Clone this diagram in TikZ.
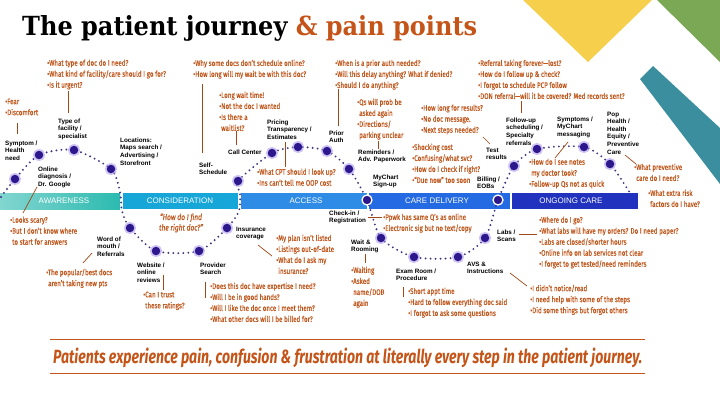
\documentclass[tikz,border=0pt]{standalone}
\usepackage{fontspec}
\usepackage{graphicx}
\setmainfont{Liberation Sans}
\newfontfamily\bulletfont[FakeStretch=0.78,FakeBold=0.6]{Fira Sans}
\newfontfamily\stagefont{Liberation Sans}
\newfontfamily\titlefont{DejaVu Serif}
\newfontfamily\bannerfont{Fira Sans}
\newcommand\ind{\hphantom{•}}

\definecolor{painc}{RGB}{192,88,30}
\definecolor{titleorange}{RGB}{196,84,24}
\definecolor{linkc}{RGB}{160,72,22}
\definecolor{stopc}{RGB}{44,24,140}
\definecolor{glowc}{RGB}{170,150,235}
\definecolor{dotc}{RGB}{62,52,130}
\definecolor{aw1}{RGB}{130,214,208}
\definecolor{aw2}{RGB}{44,186,176}
\definecolor{cons}{RGB}{22,166,216}
\definecolor{acc}{RGB}{46,140,230}
\definecolor{care}{RGB}{36,106,226}
\definecolor{ongo}{RGB}{32,50,190}
\definecolor{sun}{RGB}{246,208,77}
\definecolor{leaf}{RGB}{122,168,84}
\definecolor{sea}{RGB}{58,142,158}

\begin{document}
\begin{tikzpicture}[x=1pt,y=-1pt,
  pain/.style={anchor=north west, inner sep=0pt, align=left, text=painc,
    font=\bulletfont\fontsize{8}{11}\selectfont},
  stagelbl/.style={anchor=north west, inner sep=0pt, align=left,
    font=\stagefont\bfseries\fontsize{6.3}{7.6}\selectfont},
  phase/.style={text=white, inner sep=0pt, font=\stagefont\fontsize{8}{8}\selectfont},
  link/.style={draw=linkc, line width=0.7pt},
  trail/.style={draw=dotc, line width=2.1pt, line cap=round, dash pattern=on 0pt off 5pt},
  stop/.style={circle, minimum size=8.5pt, inner sep=0pt, fill=stopc,
    preaction={draw=glowc, line width=3.6pt, draw opacity=0.55}},
  gate/.style={circle, minimum size=10pt, inner sep=0pt, fill=stopc, draw=white, line width=1.3pt}]

\useasboundingbox (0,0) rectangle (720,405);
\fill[white] (0,0) rectangle (720,405);

% corner decoration
\fill[sun] (523,0) -- (652,0) -- (588,62) -- cycle;
\fill[leaf] (657,0) -- (720,0) -- (720,62) -- cycle;
\fill[sea] (640,79) -- (653,66) -- (720,128) -- (720,184) -- cycle;

% title
\node[anchor=base west, inner sep=0pt] (title) at (22,35)
  {\resizebox{455pt}{20pt}{\titlefont\bfseries The patient journey \textcolor{titleorange}{\&~pain points}}};

% phase bar
\shade[left color=aw1, right color=aw2] (0,193) rectangle (120,209);
\fill[cons] (123,193) rectangle (238,209);
\fill[acc] (241,193) rectangle (367,209);
\fill[care] (369,193) rectangle (510,209);
\fill[ongo] (512,193) rectangle (638,209);
\node[phase] (ph1) at (64,201) {AWARENESS};
\node[phase] (ph2) at (180,201) {CONSIDERATION};
\node[phase] (ph3) at (306,201) {ACCESS};
\node[phase] (ph4) at (437,201) {CARE DELIVERY};
\node[phase] (ph5) at (571,201) {ONGOING CARE};

% journey stops
\coordinate (t0) at (1,197);
\coordinate (c1) at (15,179);
\coordinate (c2) at (39,155);
\coordinate (c3) at (74,150);
\coordinate (c4) at (111,169);
\coordinate (g1) at (120,192);
\coordinate (g2) at (122,211);
\coordinate (c5) at (130,228);
\coordinate (c6) at (156,251);
\coordinate (c7) at (199,251);
\coordinate (c8) at (227,228);
\coordinate (g3) at (239,211);
\coordinate (g4) at (240,193);
\coordinate (c9) at (238,181);
\coordinate (c10) at (272,153);
\coordinate (c11) at (298,147);
\coordinate (c12) at (327,151);
\coordinate (c13) at (349,169);
\coordinate (c14) at (367,200);
\coordinate (c15) at (381,238);
\coordinate (c16) at (414,257);
\coordinate (c17) at (458,257);
\coordinate (c18) at (485,238);
\coordinate (c19) at (498,200);
\coordinate (c20) at (514,166);
\coordinate (c21) at (537,149);
\coordinate (c22) at (584,147);
\coordinate (c23) at (610,164);
\coordinate (t9) at (630,193);

\draw[trail] plot[smooth, tension=0.45] coordinates {(t0) (c1) (c2) (c3) (c4) (g1) (g2) (c5) (c6) (c7) (c8) (g3) (g4) (c9) (c10) (c11) (c12) (c13) (c14) (c15) (c16) (c17) (c18) (c19) (c20) (c21) (c22) (c23) (t9)};

\foreach \k in {1,...,13,15,16,17,18,20,21,22,23} \node[stop] (s\k) at (c\k) {};
\node[gate] (s14) at (c14) {};
\node[gate] (s19) at (c19) {};

% stage labels
\node[stagelbl] (l1) at (5,140.5) {Symptom /\\Health\\need};
\node[stagelbl] (l2) at (38,166.5) {Online\\diagnosis /\\Dr. Google};
\node[stagelbl] (l3) at (58,118.5) {Type of\\facility /\\specialist};
\node[stagelbl] (l4) at (120,137.5) {Locations:\\Maps search /\\Advertising /\\Storefront};
\node[stagelbl] (l5) at (199,162.5) {Self-\\Schedule};
\node[stagelbl] (l6) at (228,149.5) {Call Center};
\node[stagelbl] (l7) at (267,119.5) {Pricing\\Transparency /\\Estimates};
\node[stagelbl] (l8) at (329,130.5) {Prior\\Auth};
\node[stagelbl] (l9) at (358,149.5) {Reminders /\\Adv. Paperwork};
\node[stagelbl] (l10) at (373,174.5) {MyChart\\Sign-up};
\node[stagelbl] (l11) at (329,210.5) {Check-in /\\Registration};
\node[stagelbl] (l12) at (236,226.5) {Insurance\\coverage};
\node[stagelbl] (l13) at (97,236.5) {Word of\\mouth /\\Referrals};
\node[stagelbl] (l14) at (137,262.5) {Website /\\online\\reviews};
\node[stagelbl] (l15) at (200,262.5) {Provider\\Search};
\node[stagelbl] (l16) at (351,239.5) {Wait \&\\Rooming};
\node[stagelbl] (l17) at (396,268.5) {Exam Room /\\Procedure};
\node[stagelbl] (l18) at (467,261.5) {AVS \&\\Instructions};
\node[stagelbl] (l19) at (497,229.5) {Labs /\\Scans};
\node[stagelbl] (l20) at (477,176.5) {Billing /\\EOBs};
\node[stagelbl] (l21) at (486,147.5) {Test\\results};
\node[stagelbl] (l22) at (506,117.5) {Follow-up\\scheduling /\\Specialty\\referrals};
\node[stagelbl] (l23) at (557,116.5) {Symptoms /\\MyChart\\messaging};
\node[stagelbl] (l24) at (607,111.5) {Pop\\Health /\\Health\\Equity /\\Preventive\\Care};

% pain points
\node[pain] (p1) at (47,59.5) {•What type of doc do I need?\\•What kind of facility/care should I go for?\\•Is it urgent?};
\node[pain] (p2) at (193,59.5) {•Why some docs don’t schedule online?\\•How long will my wait be with this doc?};
\node[pain] (p3) at (219,91.5) {•Long wait time!\\•Not the doc I wanted\\•Is there a\\\ind waitlist?};
\node[pain] (p4) at (335,59.5) {•When is a prior auth needed?\\•Will this delay anything? What if denied?\\•Should I do anything?};
\node[pain] (p5) at (357,98.5) {•Qs will prob be\\\ind asked again\\•Directions/\\\ind parking unclear};
\node[pain] (p6) at (478,59.5) {•Referral taking forever—lost?\\•How do I follow up \& check?\\•I forgot to schedule PCP follow\\•DON referral—will it be covered? Med records sent?};
\node[pain] (p7) at (421,104.5) {•How long for results?\\•No doc message.\\•Next steps needed?};
\node[pain] (p8) at (412,143.5) {•Shocking cost\\•Confusing/what svc?\\•How do I check if right?\\•“Due now” too soon};
\node[pain] (p9) at (257,168.5) {•What CPT should I look up?\\•Ins can’t tell me OOP cost};
\node[pain] (p10) at (529,158.5) {•How do I see notes\\\ind my doctor took?\\•Follow-up Qs not as quick};
\node[pain] (p11) at (634,163.5) {•What preventive\\\ind care do I need?};
\node[pain] (p12) at (648,189.5) {•What extra risk\\\ind factors do I have?};
\node[pain] (p13) at (5,98.5) {•Fear\\•Discomfort};
\node[pain] (p14) at (10,216.5) {•Looks scary?\\•But I don’t know where\\\ind to start for answers};
\node[pain] (p15) at (46,268.5) {•The popular/best docs\\\ind aren’t taking new pts};
\node[pain] (p16) at (143,291.5) {•Can I trust\\\ind these ratings?};
\node[pain] (p17) at (210,282.5) {•Does this doc have expertise I need?\\•Will I be in good hands?\\•Will I like the doc once I meet them?\\•What other docs will I be billed for?};
\node[pain] (p18) at (276,234.5) {•My plan isn’t listed\\•Listings out-of-date\\•What do I ask my\\\ind insurance?};
\node[pain] (p19) at (383,213.5) {•Ppwk has same Q’s as online\\•Electronic sig but no text/copy};
\node[pain] (p20) at (351,266.5) {•Waiting\\•Asked\\\ind name/DOB\\\ind again};
\node[pain] (p21) at (408,287.5) {•Short appt time\\•Hard to follow everything doc said\\•I forgot to ask some questions};
\node[pain] (p22) at (539,216.5) {•Where do I go?\\•What labs will have my orders? Do I need paper?\\•Labs are closed/shorter hours\\•Online info on lab services not clear\\•I forget to get tested/need reminders};
\node[pain] (p23) at (530,284.5) {•I didn’t notice/read\\•I need help with some of the steps\\•Did some things but forgot others};

\node[text=painc, inner sep=0pt, align=center, font=\bulletfont\itshape\fontsize{8.5}{10.5}\selectfont] (quote) at (181,223) {“How do I find\\the right doc?”};

% leader lines
\coordinate (k1a) at (17,123);  \coordinate (k1b) at (17,134);
\coordinate (k2a) at (68,91);   \coordinate (k2b) at (68,113);
\coordinate (k3a) at (202,84);  \coordinate (k3b) at (202,153);
\coordinate (k4a) at (236,131); \coordinate (k4b) at (236,145);
\coordinate (k5a) at (285,142); \coordinate (k5b) at (285,167);
\coordinate (k6a) at (338,89);  \coordinate (k6b) at (338,126);
\coordinate (k7a) at (378,141); \coordinate (k7b) at (378,149);
\coordinate (k8a) at (483,137); \coordinate (k8b) at (490,144);
\coordinate (k9a) at (521,101); \coordinate (k9b) at (521,113);
\coordinate (k10a) at (568,142); \coordinate (k10b) at (555,158);
\coordinate (k11a) at (625,155); \coordinate (k11b) at (636,164);
\coordinate (k12a) at (37,187); \coordinate (k12b) at (23,213);
\coordinate (k13a) at (92,253); \coordinate (k13b) at (83,263);
\coordinate (k14a) at (163,275); \coordinate (k14b) at (163,290);
\coordinate (k15a) at (205,282); \coordinate (k15b) at (205,298);
\coordinate (k16a) at (258,245); \coordinate (k16b) at (272,256);
\coordinate (k17a) at (368,217); \coordinate (k17b) at (382,217);
\coordinate (k18a) at (365,254); \coordinate (k18b) at (365,263);
\coordinate (k19a) at (403,287); \coordinate (k19b) at (403,297);
\coordinate (k20a) at (519,234); \coordinate (k20b) at (537,234);
\coordinate (k21a) at (510,273); \coordinate (k21b) at (527,286);
\foreach \k in {1,...,21} \draw[link] (k\k a) -- (k\k b);

% closing statement
\coordinate (r1a) at (50,339); \coordinate (r1b) at (645,339);
\coordinate (r2a) at (50,373); \coordinate (r2b) at (645,373);
\draw[draw=titleorange, line width=0.9pt] (r1a) -- (r1b);
\draw[draw=titleorange, line width=0.9pt] (r2a) -- (r2b);
\node[anchor=base west, inner sep=0pt, text=titleorange] (banner) at (53,363)
  {\resizebox{589pt}{15.5pt}{\bannerfont\bfseries\itshape Patients experience pain, confusion \& frustration at literally every step in the patient journey.}};

\end{tikzpicture}
\end{document}
